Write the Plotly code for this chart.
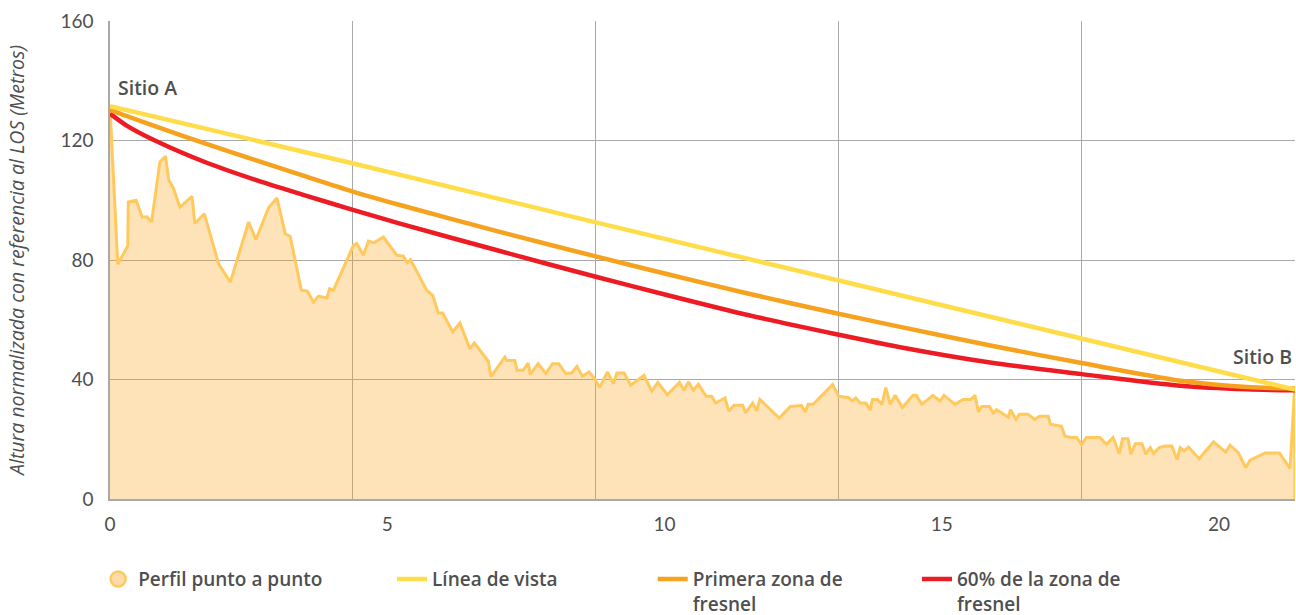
import plotly.graph_objects as go

# ---------------- data ----------------
dist_km = [0.00, 0.14, 0.32, 0.33, 0.47, 0.58, 0.67, 0.75, 0.90, 1.00, 1.06, 1.14, 1.26, 1.48, 1.53,
           1.70, 1.96, 2.17, 2.50, 2.63, 2.86, 3.01, 3.16, 3.25, 3.45, 3.56, 3.67, 3.76, 3.91, 3.96,
           4.03, 4.39, 4.45, 4.57, 4.66, 4.76, 4.93, 5.17, 5.29, 5.36, 5.42, 5.71, 5.82, 5.92, 6.00,
           6.18, 6.31, 6.49, 6.57, 6.82, 6.87, 7.12, 7.15, 7.30, 7.34, 7.45, 7.54, 7.58, 7.72, 7.86,
           7.98, 8.09, 8.22, 8.33, 8.42, 8.52, 8.64, 8.75, 8.83, 8.97, 9.08, 9.14, 9.27, 9.39, 9.63,
           9.77, 9.88, 10.05, 10.27, 10.35, 10.43, 10.52, 10.61, 10.75, 10.85, 10.92, 11.09, 11.16,
           11.25, 11.41, 11.46, 11.59, 11.66, 11.72, 12.07, 12.27, 12.47, 12.54, 12.59, 12.68, 13.03,
           13.14, 13.32, 13.38, 13.45, 13.53, 13.63, 13.71, 13.75, 13.84, 13.92, 13.99, 14.07, 14.16,
           14.29, 14.48, 14.54, 14.64, 14.84, 14.97, 15.04, 15.24, 15.38, 15.52, 15.60, 15.66, 15.72,
           15.86, 15.93, 15.99, 16.20, 16.24, 16.34, 16.40, 16.55, 16.68, 16.76, 16.92, 16.96, 17.16,
           17.22, 17.34, 17.43, 17.52, 17.61, 17.85, 17.97, 18.09, 18.20, 18.26, 18.36, 18.41, 18.49,
           18.61, 18.68, 18.76, 18.82, 18.92, 19.03, 19.15, 19.24, 19.30, 19.37, 19.45, 19.64, 19.90,
           20.12, 20.20, 20.35, 20.48, 20.56, 20.83, 21.09, 21.28, 21.36, 21.37]
perfil_m = [131.0, 78.6, 84.7, 99.4, 100.0, 94.4, 94.4, 92.7, 112.8, 114.7, 106.7, 104.2, 97.7, 101.3, 92.2,
            95.5, 78.6, 72.6, 92.7, 86.8, 97.5, 100.8, 88.8, 87.9, 69.9, 69.6, 65.9, 67.9, 67.3, 70.4,
            69.9, 84.9, 85.5, 81.6, 86.3, 85.8, 87.7, 81.6, 81.3, 79.1, 80.1, 69.9, 68.2, 62.3, 62.3,
            55.9, 58.9, 50.3, 52.2, 46.2, 41.0, 47.5, 46.4, 46.4, 43.1, 43.1, 45.5, 41.7, 45.3, 42.0,
            45.3, 45.3, 42.0, 42.2, 44.4, 41.1, 42.5, 40.0, 37.3, 42.5, 38.6, 42.2, 42.2, 38.1, 41.4,
            36.1, 39.0, 34.9, 39.0, 36.4, 39.2, 36.4, 38.4, 34.4, 34.4, 32.1, 33.8, 29.4,
            31.4, 31.4, 28.8, 32.1, 29.5, 33.3, 27.1, 31.0, 31.3, 29.1, 31.7, 31.7, 38.3,
            34.4, 33.9, 32.8, 33.8, 32.1, 32.1, 29.7, 33.3, 33.3, 31.6, 37.3, 31.7, 34.7,
            30.6, 34.7, 34.7, 31.7, 34.7, 32.8, 34.7, 31.7, 33.3, 33.3, 34.7, 29.1, 31.0,
            31.0, 28.8, 29.9, 27.4, 29.9, 26.6, 28.4, 28.4, 26.6, 27.7, 27.7, 25.0, 24.3,
            21.0, 20.6, 20.6, 18.3, 20.6, 20.6, 18.3, 20.6, 15.2, 20.2, 20.2, 15.0, 18.5,
            18.5, 15.0, 17.2, 15.2, 17.2, 17.7, 17.7, 13.2, 17.2, 16.1, 17.4, 13.5, 19.1,
            15.7, 18.0, 15.4, 10.5, 13.0, 15.4, 15.4, 10.2, 36.0, 0.0]

los_km = [0.0, 4.39, 8.76, 13.14, 17.52, 21.37]
los_m = [131.5, 112.3, 92.6, 73.2, 53.5, 36.6]

fresnel_km = [0.0, 0.3, 0.81, 1.71, 2.61, 3.47, 4.38, 5.23, 7.03, 8.76, 10.04, 11.5, 13.14, 14.25,
              15.9, 17.52, 19.3, 20.5, 21.37]
fresnel1_m = [130.3, 128.2, 124.8, 119.0, 113.5, 108.3, 102.9, 98.4, 89.4, 81.2, 75.3, 68.8, 62.0,
              57.6, 51.3, 45.5, 39.6, 37.5, 37.0]
fresnel60_m = [129.0, 125.0, 120.0, 112.8, 106.9, 101.9, 96.8, 92.2, 83.0, 74.4, 68.3, 61.6, 55.0,
               50.8, 45.6, 41.8, 37.9, 36.7, 36.4]

x_ticks = [0, 5, 10, 15, 20]
y_ticks = [0, 40, 80, 120, 160]

names = ["Perfil punto a punto", "Línea de vista", "Primera zona de<br>fresnel",
         "60% de la zona de<br>fresnel"]

# ---------------- style ----------------
FONT = "Lato"
FONT2 = "Open Sans"
GRID = "#A9A9A9"
TXT = "#4F4F4F"
C_PROF_LINE = "#FFC95E"
C_PROF_FILL = "rgba(248,162,15,0.30)"
C_LOS = "#FFDD4A"
C_F1 = "#F7A21E"
C_F60 = "#ED1C24"

fig = go.Figure()

fig.add_trace(go.Scatter(x=dist_km, y=perfil_m, mode="lines",
                         line=dict(color=C_PROF_LINE, width=3),
                         fill="tozeroy", fillcolor=C_PROF_FILL,
                         showlegend=False, hoverinfo="skip"))
# legend symbol for the profile
fig.add_trace(go.Scatter(x=[None], y=[None], mode="markers", name=names[0],
                         marker=dict(symbol="circle", size=15, color="#FDDCAA",
                                     line=dict(color=C_PROF_LINE, width=2.5)),
                         legend="legend"))
fig.add_trace(go.Scatter(x=fresnel_km, y=fresnel60_m, mode="lines", name=names[3],
                         line=dict(color=C_F60, width=4.5, shape="spline", smoothing=0.8),
                         legend="legend4"))
fig.add_trace(go.Scatter(x=fresnel_km, y=fresnel1_m, mode="lines", name=names[2],
                         line=dict(color=C_F1, width=4.5, shape="spline", smoothing=0.8),
                         legend="legend3"))
fig.add_trace(go.Scatter(x=los_km, y=los_m, mode="lines", name=names[1],
                         line=dict(color=C_LOS, width=4.5), legend="legend2"))

leg_common = dict(orientation="h", yanchor="top", y=-0.128, xanchor="left",
                  valign="top", bgcolor="rgba(0,0,0,0)",
                  font=dict(family=FONT2, size=19, color=TXT, weight=600))
fig.update_layout(
    legend=dict(x=-0.010, **leg_common),
    legend2=dict(x=0.238, **leg_common),
    legend3=dict(x=0.458, **leg_common),
    legend4=dict(x=0.681, **leg_common),
)

fig.add_annotation(x=0, y=137.8, xref="x", yref="y", text="Sitio A", showarrow=False,
                   xanchor="left", yanchor="middle", xshift=6,
                   font=dict(family=FONT2, size=19.5, color=TXT, weight=600))
fig.add_annotation(x=21.37, y=47.8, xref="x", yref="y", text="Sitio B", showarrow=False,
                   xanchor="right", yanchor="middle", xshift=-1,
                   font=dict(family=FONT2, size=19.5, color=TXT, weight=600))

fig.update_xaxes(range=[0, 21.37], tickvals=x_ticks, showgrid=False, zeroline=False,
                 showline=True, linecolor=GRID, linewidth=1.5, ticks="",
                 ticklabelstandoff=7,
                 tickfont=dict(family=FONT, size=19, color=TXT),
                 minor=dict(dtick=4.382, tick0=0, showgrid=True, gridcolor=GRID, gridwidth=1))
fig.update_yaxes(range=[0, 160], tickvals=y_ticks, showgrid=True, gridcolor=GRID, gridwidth=1,
                 zeroline=False, showline=True, linecolor=GRID, linewidth=1.5, ticks="",
                 ticklabelstandoff=11,
                 tickfont=dict(family=FONT, size=19, color=TXT),
                 title=dict(text="Altura normalizada con referencia al LOS (Metros)",
                            font=dict(family=FONT2, size=19.5, color=TXT, style="italic"),
                            standoff=31))

fig.update_layout(width=1296, height=615,
                  margin=dict(l=110, r=1, t=21, b=116, autoexpand=False),
                  paper_bgcolor="white", plot_bgcolor="white",
                  font=dict(family=FONT, color=TXT))

# remove the default page margin so the figure fills the window exactly
fig.write_html("out.html",
               config={"displayModeBar": False},
               post_script="document.body.style.margin='0';document.body.style.overflow='hidden';")
